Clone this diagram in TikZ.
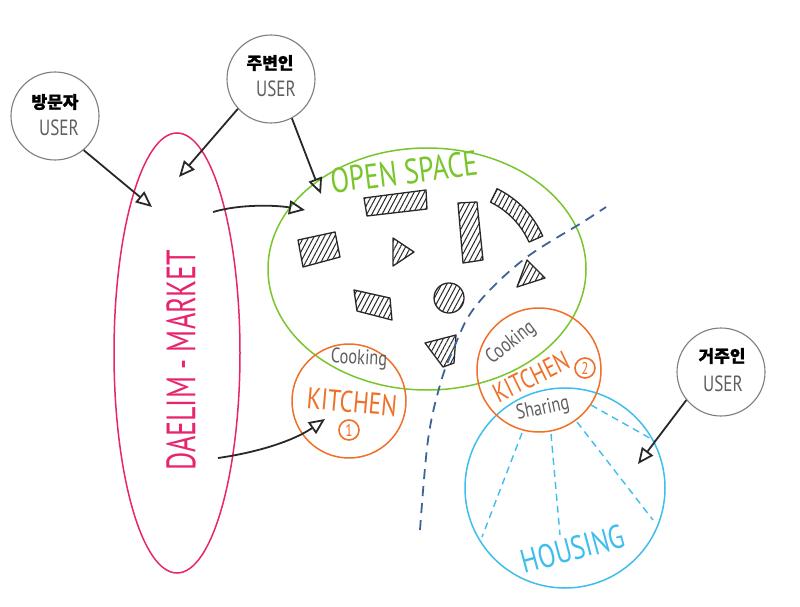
\documentclass[tikz,border=0pt]{standalone}
\usepackage{fontspec}
\setmainfont{PT Sans}
\newfontfamily\hand{PT Sans}[FakeStretch=0.78]
\newfontfamily\handn{PT Sans}[FakeStretch=0.68]
\newfontfamily\kr{Noto Sans CJK KR}[BoldFeatures={FakeBold=1}]
\usetikzlibrary{shapes.geometric,arrows.meta,patterns.meta}
\definecolor{mkpink}{RGB}{232,36,110}
\definecolor{osgreen}{RGB}{120,198,44}
\definecolor{kitorange}{RGB}{240,112,40}
\definecolor{houseblue}{RGB}{62,190,236}
\definecolor{dashblue}{RGB}{62,100,150}
\definecolor{txtgray}{RGB}{95,95,95}
\definecolor{circgray}{RGB}{125,125,125}
\definecolor{ink}{RGB}{40,40,40}
\begin{document}
\begin{tikzpicture}[x=1pt,y=-1pt,
  usercirc/.style={circle,draw=circgray,line width=1.1pt,minimum size=88pt,inner sep=0pt},
  krtext/.style={font=\kr\bfseries\fontsize{17}{17}\selectfont,text=black},
  usertext/.style={font=\hand\fontsize{22}{22}\selectfont,text=txtgray},
  arr/.style={-{Triangle[open,length=16pt,width=14pt]},line width=1.8pt,draw=ink},
  hatch/.style={draw=ink,line width=1.3pt,line join=round,pattern={Lines[angle=62,distance=4.5pt,line width=1pt]},pattern color=ink},
  cooktext/.style={font=\hand\fontsize{21}{21}\selectfont,text=txtgray},
  kittext/.style={font=\hand\fontsize{30}{30}\selectfont,text=kitorange},
  numcirc/.style={circle,draw=kitorange,line width=1.6pt,text=kitorange,inner sep=1.5pt,minimum size=20pt,font=\hand\fontsize{17}{17}\selectfont},
]
\useasboundingbox[fill=white] (0,0) rectangle (800,607);

% big regions
\node[ellipse,draw=mkpink,line width=1.5pt,minimum width=126pt,minimum height=440pt] (market) at (177,353) {};
\node[ellipse,draw=osgreen,line width=1.5pt,minimum width=318pt,minimum height=242pt] (open) at (427,269) {};
\node[circle,draw=houseblue,line width=1.5pt,minimum size=200pt] (housing) at (565,488) {};
\node[circle,draw=kitorange,line width=1.5pt,minimum size=114pt] (kit1) at (349,401) {};
\node[circle,draw=kitorange,line width=1.5pt,minimum size=124pt] (kit2) at (539,370) {};

% labels
\node[rotate=90,text=mkpink,font=\handn\fontsize{41}{41}\selectfont,inner sep=0pt] (mktlabel) at (181,360) {DAELIM - MARKET};
\node[rotate=7,text=osgreen,font=\hand\fontsize{35}{35}\selectfont,inner sep=0pt] (oslabel) at (404,172) {OPEN SPACE};
\node[rotate=15,text=houseblue,font=\hand\fontsize{33}{33}\selectfont,inner sep=0pt] (houselabel) at (573,549) {HOUSING};
\node[cooktext,rotate=-3,inner sep=0pt] (cook1) at (359,359) {Cooking};
\node[kittext,rotate=-5,inner sep=0pt] (kitlabel1) at (352,402) {KITCHEN};
\node[numcirc] (num1) at (349,430) {1};
\node[cooktext,rotate=38,inner sep=0pt] (cook2) at (511,343) {Cooking};
\node[kittext,rotate=26,inner sep=0pt,font=\hand\fontsize{27}{27}\selectfont] (kitlabel2) at (531,377) {KITCHEN};
\node[numcirc] (num2) at (585,368) {2};
\node[cooktext,rotate=12,inner sep=0pt] (share) at (543,409) {Sharing};

% user circles
\node[usercirc] (visitor) at (55,116) {};
\node[krtext] (visitorkr) at (55,102) {방문자};
\node[usertext] (visitoruser) at (59,128) {USER};
\node[usercirc] (neighbor) at (271,79) {};
\node[krtext] (neighborkr) at (270,63) {주변인};
\node[usertext] (neighboruser) at (276,89) {USER};
\node[usercirc] (resident) at (721,372) {};
\node[krtext] (residentkr) at (722,356) {거주인};
\node[usertext] (residentuser) at (723,384) {USER};

% hatched furniture
\draw[hatch] (364,198) -- (426,190) -- (427,209) -- (367,216) -- cycle;
\draw[hatch] (298,240) -- (335,232) -- (340,257) -- (303,267) -- cycle;
\draw[hatch] (393,238) -- (414,252) -- (393,266) -- cycle;
\draw[hatch] (458,203) -- (477,202) -- (483,260) -- (463,263) -- cycle;
\draw[hatch] plot[domain=24:64,samples=12] ({455+96*cos(\x)},{275-96*sin(\x)}) -- plot[domain=64:24,samples=12] ({455+81*cos(\x)},{275-81*sin(\x)}) -- cycle;
\draw[hatch] (527,260) -- (545,278) -- (517,287) -- cycle;
\draw[hatch] (354,290) -- (390,298) -- (392,320) -- (357,311) -- cycle;
\draw[hatch] (449,298) circle[radius=15];
\draw[hatch] (425,343) -- (456,335) -- (454,363) -- (443,367) -- cycle;

% dashed boundary
\draw[dashblue,line width=1.8pt,dash pattern=on 10pt off 7pt] plot[smooth,tension=0.6] coordinates {(420,530) (428,440) (440,385) (453,350) (475,307) (523,260) (583,222) (606,207)};

% housing dashed lines
\coordinate (h1a) at (522,433); \coordinate (h1b) at (482,537);
\coordinate (h2a) at (551,434); \coordinate (h2b) at (560,535);
\coordinate (h3a) at (577,422); \coordinate (h3b) at (653,520);
\coordinate (h4a) at (591,405); \coordinate (h4b) at (655,441);
\begin{scope}[houseblue,line width=1.4pt,dash pattern=on 7pt off 5pt]
\draw (h1a) -- (h1b);
\draw (h2a) -- (h2b);
\draw (h3a) -- (h3b);
\draw (h4a) -- (h4b);
\end{scope}

% arrows
\coordinate (e1) at (152,207);
\coordinate (e2) at (179,177);
\coordinate (e3) at (321,194);
\coordinate (s4) at (213,212); \coordinate (e4) at (305,210);
\coordinate (s5) at (218,458); \coordinate (e5) at (325,419);
\coordinate (e6) at (638,464);
\draw[arr] (visitor.-50) -- (e1);
\draw[arr] (neighbor.222) -- (e2);
\draw[arr] (neighbor.298) -- (e3);
\draw[arr] (s4) .. controls (240,204) and (275,205) .. (e4);
\draw[arr] (s5) .. controls (260,452) and (295,440) .. (e5);
\draw[arr] (resident.219) -- (e6);
\end{tikzpicture}
\end{document}
